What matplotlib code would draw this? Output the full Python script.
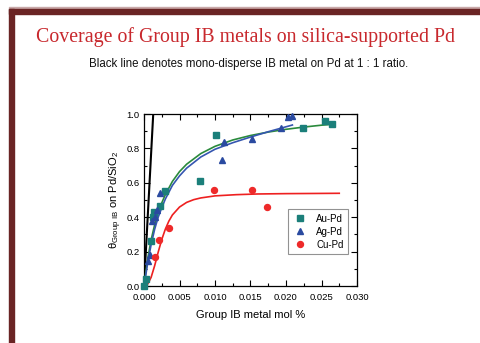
import matplotlib
matplotlib.use("Agg")
import matplotlib.pyplot as plt
from matplotlib.patches import Rectangle
from matplotlib.ticker import MultipleLocator, FormatStrFormatter

# ---- data ----
au_x = [0.0, 0.0003, 0.001, 0.0013, 0.0014, 0.0023, 0.003, 0.00785, 0.0101, 0.02235, 0.02545, 0.0265]
au_y = [0.0, 0.04, 0.26, 0.40, 0.43, 0.467, 0.55, 0.61, 0.88, 0.917, 0.96, 0.94]

ag_x = [0.0006, 0.0009, 0.0011, 0.0015, 0.0018, 0.00225, 0.011, 0.0112, 0.0152, 0.0193, 0.0203, 0.0209]
ag_y = [0.145, 0.18, 0.38, 0.40, 0.44, 0.54, 0.73, 0.835, 0.853, 0.92, 0.985, 0.99]

cu_x = [0.00155, 0.0021, 0.0035, 0.0098, 0.0152, 0.0173]
cu_y = [0.17, 0.267, 0.34, 0.558, 0.558, 0.46]

# fitted curves
au_fit_x = [0.0, 0.0005, 0.001, 0.0015, 0.002, 0.0025, 0.003, 0.004, 0.005, 0.006, 0.008, 0.010, 0.0125, 0.015, 0.0175, 0.020, 0.0225, 0.025, 0.0265]
au_fit_y = [0.0, 0.153, 0.268, 0.356, 0.426, 0.483, 0.531, 0.608, 0.665, 0.708, 0.770, 0.812, 0.849, 0.875, 0.895, 0.911, 0.924, 0.935, 0.940]

ag_fit_x = [0.0002, 0.0005, 0.001, 0.0015, 0.002, 0.0025, 0.003, 0.004, 0.005, 0.006, 0.008, 0.010, 0.0125, 0.015, 0.0175, 0.0209]
ag_fit_y = [0.05, 0.13, 0.24, 0.33, 0.40, 0.455, 0.505, 0.585, 0.64, 0.685, 0.75, 0.795, 0.833, 0.866, 0.897, 0.936]

cu_fit_x = [0.0, 0.0005, 0.001, 0.0015, 0.002, 0.0025, 0.003, 0.0035, 0.004, 0.005, 0.006, 0.007, 0.008, 0.010, 0.013, 0.016, 0.020, 0.024, 0.0275]
cu_fit_y = [0.0, 0.01, 0.05, 0.118, 0.197, 0.27, 0.33, 0.377, 0.413, 0.459, 0.486, 0.502, 0.512, 0.524, 0.531, 0.535, 0.537, 0.538, 0.539]

mono_x = [0.0, 0.0013]
mono_y = [0.0, 1.0]

xticks = [0.000, 0.005, 0.010, 0.015, 0.020, 0.025, 0.030]
yticks = [0.0, 0.2, 0.4, 0.6, 0.8, 1.0]

title = "Coverage of Group IB metals on silica-supported Pd"
subtitle = "Black line denotes mono-disperse IB metal on Pd at 1 : 1 ratio."

# ---- colours ----
c_au = "#1b7f7a"
c_ag = "#2a4aa0"
c_cu = "#ee2a2a"
c_au_line = "#2a8a3c"
c_ag_line = "#3556b0"
c_cu_line = "#ee2020"
maroon = "#6a2424"

W, H = 481, 343
fig = plt.figure(figsize=(W / 100, H / 100), dpi=100)
fig.patch.set_facecolor("white")

# frame bars
def px_rect(x0, y0, w, h, color):
    fig.patches.append(Rectangle((x0 / W, 1 - (y0 + h) / H), w / W, h / H,
                                 transform=fig.transFigure, color=color, zorder=0))

px_rect(9, 7, W - 9, 1.5, "#c9a9a9")
px_rect(9, 9, W - 9, 4.5, maroon)
px_rect(9, 9, 4.5, H - 9, maroon)

fig.text(246 / W, 1 - 37 / H, title, ha="center", va="center",
         fontsize=14.3, color="#c8282d", family="Liberation Serif")
fig.text(249 / W, 1 - 64 / H, subtitle, ha="center", va="center",
         fontsize=8.3, color="#111111", family="Liberation Sans")

ax = fig.add_axes([144 / W, 1 - 286 / H, 213 / W, 172 / H])

ax.plot(mono_x, mono_y, color="black", lw=1.5, zorder=3)
ax.plot(au_fit_x, au_fit_y, color=c_au_line, lw=1.2, zorder=3)
ax.plot(ag_fit_x, ag_fit_y, color=c_ag_line, lw=1.2, zorder=3)
ax.plot(cu_fit_x, cu_fit_y, color=c_cu_line, lw=1.2, zorder=3)

ax.plot(au_x, au_y, ls="none", marker="s", ms=4.3, color=c_au, label="Au-Pd", zorder=4, clip_on=False)
ax.plot(ag_x, ag_y, ls="none", marker="^", ms=5.0, color=c_ag, label="Ag-Pd", zorder=4, clip_on=False)
ax.plot(cu_x, cu_y, ls="none", marker="o", ms=4.3, color=c_cu, label="Cu-Pd", zorder=4, clip_on=False)

ax.set_xlim(0, 0.030)
ax.set_ylim(0, 1.0)
ax.set_xticks(xticks)
ax.set_yticks(yticks)
ax.xaxis.set_major_formatter(FormatStrFormatter("%.3f"))
ax.yaxis.set_major_formatter(FormatStrFormatter("%.1f"))
ax.xaxis.set_minor_locator(MultipleLocator(0.0025))
ax.yaxis.set_minor_locator(MultipleLocator(0.1))
ax.tick_params(which="both", direction="in", top=True, right=True, width=0.8,
               labelsize=6.8)
ax.tick_params(axis="x", pad=5)
ax.tick_params(axis="y", pad=3)
ax.tick_params(which="major", length=4)
ax.tick_params(which="minor", length=2)
for lab in ax.get_xticklabels() + ax.get_yticklabels():
    lab.set_family("Liberation Sans")
for s in ax.spines.values():
    s.set_linewidth(0.9)

ax.set_xlabel("Group IB metal mol %", fontsize=8, family="Liberation Sans", labelpad=6)
ax.set_ylabel("θ$_{\\mathregular{Group\\ IB}}$ on Pd/SiO$_{\\mathregular{2}}$",
              fontsize=8, family="Liberation Sans", labelpad=2)

leg = ax.legend(loc="lower right", bbox_to_anchor=(0.958, 0.186), borderaxespad=0,
                frameon=True, fancybox=False, edgecolor="#777777",
                handlelength=1.6, handletextpad=0.9, borderpad=0.45,
                labelspacing=0.3, prop={"family": "Liberation Sans", "size": 7})
leg.get_frame().set_linewidth(0.8)

fig.savefig("out.png", dpi=100)
